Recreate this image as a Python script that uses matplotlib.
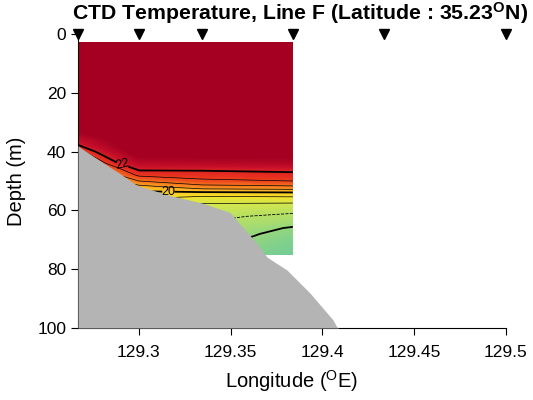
import numpy as np
import matplotlib
matplotlib.use("Agg")
import matplotlib.pyplot as plt
from matplotlib.colors import LinearSegmentedColormap, Normalize

plt.rcParams.update({
    "font.family": ["Liberation Sans", "DejaVu Sans"],
    "mathtext.default": "regular",
    "font.size": 11,
})

# ---- CTD stations along Line F ----
station_lon = [129.2668, 129.3, 129.3343, 129.3839, 129.4335, 129.5]

# stations with a temperature cast (first four)
cast_lon = [129.2668, 129.3, 129.3343, 129.3839]
cast_depth = [3, 20, 30, 36, 40, 44, 46, 48, 50, 52, 54, 56, 58, 60,
              62, 64, 66, 68, 70, 75]
# temperature (degC), one row per depth, one column per cast
cast_temp = [
    [24.6, 24.6, 24.5, 24.4],
    [24.6, 24.6, 24.5, 24.4],
    [24.4, 24.5, 24.4, 24.3],
    [22.6, 24.3, 24.3, 24.2],
    [21.2, 24.0, 24.0, 24.0],
    [20.4, 22.8, 22.9, 23.0],
    [20.0, 22.1, 22.1, 22.2],
    [19.8, 21.6, 21.7, 21.8],
    [19.6, 21.0, 21.4, 21.5],
    [19.4, 20.3, 20.8, 20.9],
    [19.2, 19.9, 19.9, 19.95],
    [19.0, 19.5, 19.25, 19.3],
    [18.8, 19.2, 18.95, 18.9],
    [18.6, 19.0, 18.75, 18.6],
    [18.4, 18.8, 18.6, 18.4],
    [18.2, 18.6, 18.5, 18.2],
    [18.0, 18.4, 18.42, 17.95],
    [17.8, 18.2, 18.35, 17.8],
    [17.6, 18.0, 18.25, 17.7],
    [17.4, 17.8, 18.0, 17.5],
]

# bottom topography along the section
bathy_lon = [129.2668, 129.2679, 129.2788, 129.2897, 129.299, 129.3169,
             129.3349, 129.3496, 129.3567, 129.3643, 129.3698, 129.3807,
             129.3932, 129.4058, 129.4079, 129.409]
bathy_depth = [38.0, 38.6, 43.1, 47.5, 51.5, 54.9, 57.6, 60.7, 65.8, 71.2,
               75.9, 80.3, 88.1, 97.3, 99.7, 100.0]

# ---- colours ----
temp_cmap = LinearSegmentedColormap.from_list("ctd", [
    (0.00, "#72cc96"),
    (0.13, "#a8dc70"),
    (0.24, "#d2e64c"),
    (0.34, "#f6e22a"),
    (0.47, "#fbb526"),
    (0.58, "#f57a1e"),
    (0.70, "#e8301f"),
    (0.83, "#c8102a"),
    (1.00, "#a50021"),
])
norm = Normalize(vmin=17.5, vmax=23.5)

fig = plt.figure(figsize=(5.33, 4.0), dpi=100)
ax = fig.add_axes([0.1463, 0.18, 0.803, 0.735])

lon = np.array(cast_lon)
dep = np.array(cast_depth)
T = np.array(cast_temp)

ax.contourf(lon, dep, T, levels=np.arange(17.0, 25.01, 0.05),
            cmap=temp_cmap, norm=norm, extend="both")

# thin isotherms every 0.5 degC, bold every 2 degC, dashed at 18.5
ax.contour(lon, dep, T, levels=[19.0, 19.5, 20.5, 21.0, 21.5],
           colors="k", linewidths=0.5)
ax.contour(lon, dep, T, levels=[18.5], colors="k", linewidths=0.6,
           linestyles="--")
ax.contour(lon, dep, T, levels=[18.0], colors="k", linewidths=1.3)
cs = ax.contour(lon, dep, T, levels=[20.0, 22.0], colors="k",
                linewidths=1.3)
ax.clabel(cs, fmt="%d", fontsize=9, inline=True,
          manual=[(129.291, 45.0), (129.316, 53.6)])

# sea floor
ax.fill_between(bathy_lon, bathy_depth, 100, color="#b4b4b4", lw=0, zorder=3)

# station markers along the surface
ax.plot(station_lon, [0] * len(station_lon), "v", color="k", ms=7,
        clip_on=False, zorder=5)

ax.set_xlim(129.2668, 129.5)
ax.set_ylim(100, 0)
ax.set_xticks([129.3, 129.35, 129.4, 129.45, 129.5])
ax.set_xticklabels(["129.3", "129.35", "129.4", "129.45", "129.5"])
ax.set_yticks([0, 20, 40, 60, 80, 100])
ax.tick_params(direction="out", length=5, labelsize=12.5)
ax.tick_params(axis="x", pad=7)
for s in ("top", "right"):
    ax.spines[s].set_visible(False)

ax.set_xlabel("Longitude ($^{O}$E)", fontsize=14.5, labelpad=6)
ax.set_ylabel("Depth (m)", fontsize=14.5, labelpad=8)
fig.text(0.563, 0.967, "CTD Temperature, Line F (Latitude : 35.23$^{O}$N)",
         ha="center", va="center", fontsize=15.3, fontweight="bold")

fig.savefig("out.png", dpi=100)
